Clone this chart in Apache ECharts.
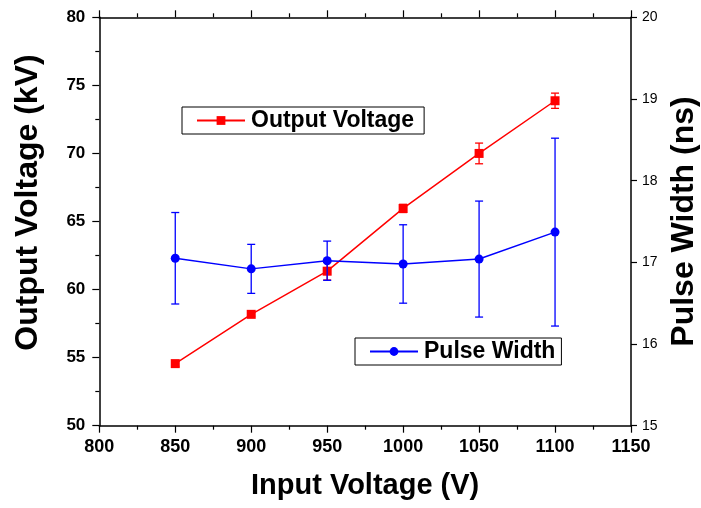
<!DOCTYPE html>
<html>
<head>
<meta charset="utf-8">
<script src="https://cdn.jsdelivr.net/npm/echarts@6/dist/echarts.min.js"></script>
<style>
  html, body { margin: 0; padding: 0; background: #fff; }
  #chart { width: 701px; height: 508px; }
</style>
</head>
<body>
<div id="chart"></div>
<script>
// data
const inputVoltage = [850, 900, 950, 1000, 1050, 1100]
const outputVoltage = [54.56, 58.18, 61.35, 65.96, 70.0, 73.87]
const outputErr = [0.2, 0.15, 0.65, 0.3, 0.76, 0.56]
const pulseWidth = [17.05, 16.92, 17.02, 16.98, 17.04, 17.37]
const pulseErr = [0.56, 0.3, 0.24, 0.48, 0.71, 1.15]

const FONT = '"Liberation Sans", Arial, Helvetica, sans-serif'
const RED = '#ff0000'
const BLUE = '#0000ff'

function pairs(xs, ys) {
  return xs.map((x, i) => [x, ys[i]])
}
function errData(xs, ys, es) {
  return xs.map((x, i) => [x, ys[i] - es[i], ys[i] + es[i]])
}
// error bar with caps
function errorBar(color) {
  return function (params, api) {
    const x = api.value(0)
    const lo = api.coord([x, api.value(1)])
    const hi = api.coord([x, api.value(2)])
    const w = 4
    const style = { stroke: color, lineWidth: 1.3 }
    return {
      type: 'group',
      children: [
        { type: 'line', shape: { x1: hi[0], y1: hi[1], x2: lo[0], y2: lo[1] }, style: style },
        { type: 'line', shape: { x1: hi[0] - w, y1: hi[1], x2: hi[0] + w, y2: hi[1] }, style: style },
        { type: 'line', shape: { x1: lo[0] - w, y1: lo[1], x2: lo[0] + w, y2: lo[1] }, style: style }
      ]
    }
  }
}

const axisLine = { show: true, onZero: false, lineStyle: { color: '#000', width: 1.5 } }
const tickStyle = { color: '#000', width: 1.2 }
const plain = (v) => String(v)

const chart = echarts.init(document.getElementById('chart'))
chart.setOption({
  animation: false,
  backgroundColor: '#fff',
  textStyle: { fontFamily: FONT },
  grid: { left: 99.3, right: 70, top: 17.3, bottom: 82.3, containLabel: false, outerBoundsMode: 'none' },
  legend: [
    {
      data: ['Output Voltage'],
      left: 182, top: 107,
      orient: 'horizontal',
      padding: [2, 10, 2, 14],
      itemWidth: 48, itemHeight: 11, itemGap: 0,
      borderColor: '#000', borderWidth: 1,
      textStyle: { fontSize: 23, fontWeight: 'bold', color: '#000', fontFamily: FONT, padding: [0, 0, 0, 1] }
    },
    {
      data: ['Pulse Width'],
      left: 355, top: 338,
      orient: 'horizontal',
      padding: [2, 6, 2, 14],
      itemWidth: 48, itemHeight: 11, itemGap: 0,
      borderColor: '#000', borderWidth: 1,
      textStyle: { fontSize: 23, fontWeight: 'bold', color: '#000', fontFamily: FONT, padding: [0, 0, 0, 1] }
    }
  ],
  xAxis: [
    {
      type: 'value', position: 'bottom',
      min: 800, max: 1150, interval: 50,
      name: 'Input Voltage (V)', nameLocation: 'middle', nameGap: 46,
      nameTextStyle: { fontSize: 29, fontWeight: 'bold', color: '#000', fontFamily: FONT },
      axisLine: axisLine,
      axisTick: { show: true, inside: false, length: 7, lineStyle: tickStyle },
      minorTick: { show: true, splitNumber: 2, length: 4, lineStyle: tickStyle },
      axisLabel: { fontSize: 18, fontWeight: 'bold', color: '#000', margin: 12, fontFamily: FONT, formatter: plain },
      splitLine: { show: false }
    },
    {
      type: 'value', position: 'top',
      min: 800, max: 1150, interval: 50,
      axisLine: axisLine,
      axisTick: { show: true, inside: false, length: 7, lineStyle: tickStyle },
      minorTick: { show: true, splitNumber: 2, length: 4, lineStyle: tickStyle },
      axisLabel: { show: false },
      splitLine: { show: false }
    }
  ],
  yAxis: [
    {
      type: 'value', position: 'left',
      min: 50, max: 80, interval: 5,
      name: 'Output Voltage (kV)', nameLocation: 'middle', nameGap: 55, nameRotate: 90,
      nameTextStyle: { fontSize: 32, fontWeight: 'bold', color: '#000', fontFamily: FONT, padding: [0, 0, 0, 38] },
      axisLine: axisLine,
      axisTick: { show: true, inside: false, length: 7, lineStyle: tickStyle },
      minorTick: { show: true, splitNumber: 2, length: 4, lineStyle: tickStyle },
      axisLabel: { fontSize: 17, fontWeight: 'bold', color: '#000', margin: 14, fontFamily: FONT, formatter: plain },
      splitLine: { show: false }
    },
    {
      type: 'value', position: 'right',
      min: 15, max: 20, interval: 1,
      name: 'Pulse Width (ns)', nameLocation: 'middle', nameGap: 37, nameRotate: 90,
      nameTextStyle: { fontSize: 32, fontWeight: 'bold', color: '#000', fontFamily: FONT },
      axisLine: axisLine,
      axisTick: { show: true, inside: false, length: 6, lineStyle: tickStyle },
      minorTick: { show: false },
      axisLabel: { fontSize: 14, color: '#000', margin: 11, fontFamily: FONT, formatter: plain },
      splitLine: { show: false }
    }
  ],
  series: [
    {
      name: 'Output Voltage err',
      type: 'custom',
      xAxisIndex: 0, yAxisIndex: 0,
      renderItem: errorBar(RED),
      encode: { x: 0, y: [1, 2] },
      data: errData(inputVoltage, outputVoltage, outputErr),
      z: 2
    },
    {
      name: 'Output Voltage',
      type: 'line',
      xAxisIndex: 0, yAxisIndex: 0,
      data: pairs(inputVoltage, outputVoltage),
      symbol: 'rect', symbolSize: 9,
      lineStyle: { color: RED, width: 1.5 },
      itemStyle: { color: RED },
      z: 3
    },
    {
      name: 'Pulse Width err',
      type: 'custom',
      xAxisIndex: 0, yAxisIndex: 1,
      renderItem: errorBar(BLUE),
      encode: { x: 0, y: [1, 2] },
      data: errData(inputVoltage, pulseWidth, pulseErr),
      z: 4
    },
    {
      name: 'Pulse Width',
      type: 'line',
      xAxisIndex: 0, yAxisIndex: 1,
      data: pairs(inputVoltage, pulseWidth),
      symbol: 'circle', symbolSize: 9,
      lineStyle: { color: BLUE, width: 1.5 },
      itemStyle: { color: BLUE },
      z: 5
    }
  ]
})
</script>
</body>
</html>
